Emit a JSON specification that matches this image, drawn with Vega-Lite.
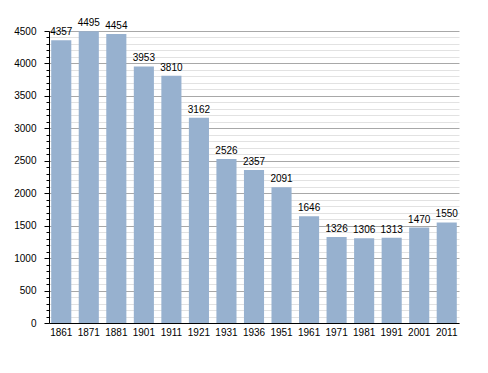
{
  "$schema": "https://vega.github.io/schema/vega-lite/v6.json",
  "width": 410,
  "height": 292,
  "autosize": "none",
  "padding": {"left": 49, "top": 31, "right": 29, "bottom": 50},
  "background": "white",
  "config": {
    "view": {"stroke": null},
    "font": "Liberation Sans",
    "axis": {"labelFont": "Liberation Sans", "labelFontSize": 10, "labelColor": "#000", "domainColor": "#000", "domainWidth": 1}
  },
  "data": {
    "values": [
      {"year": "1861", "pop": 4357},
      {"year": "1871", "pop": 4495},
      {"year": "1881", "pop": 4454},
      {"year": "1901", "pop": 3953},
      {"year": "1911", "pop": 3810},
      {"year": "1921", "pop": 3162},
      {"year": "1931", "pop": 2526},
      {"year": "1936", "pop": 2357},
      {"year": "1951", "pop": 2091},
      {"year": "1961", "pop": 1646},
      {"year": "1971", "pop": 1326},
      {"year": "1981", "pop": 1306},
      {"year": "1991", "pop": 1313},
      {"year": "2001", "pop": 1470},
      {"year": "2011", "pop": 1550}
    ]
  },
  "encoding": {
    "x": {
      "field": "year", "type": "nominal", "sort": null,
      "scale": {"paddingInner": 0.27, "paddingOuter": 0.08},
      "axis": {"title": null, "labelAngle": 0, "ticks": false, "labelPadding": 4, "grid": false}
    },
    "y": {
      "field": "pop", "type": "quantitative",
      "scale": {"domain": [0, 4500], "nice": false},
      "axis": {
        "title": null,
        "values": [0,100,200,300,400,500,600,700,800,900,1000,1100,1200,1300,1400,1500,1600,1700,1800,1900,2000,2100,2200,2300,2400,2500,2600,2700,2800,2900,3000,3100,3200,3300,3400,3500,3600,3700,3800,3900,4000,4100,4200,4300,4400,4500],
        "labelExpr": "datum.value % 500 === 0 ? datum.value : ''",
        "labelPadding": 8,
        "tickColor": "#000",
        "tickSize": {"condition": {"test": "datum.value % 500 === 0", "value": 5}, "value": 3},
        "grid": true,
        "gridColor": {"condition": {"test": "datum.value % 500 === 0", "value": "#a8a8a8"}, "value": "#e2e2e2"},
        "gridWidth": 1
      }
    }
  },
  "layer": [
    {"mark": {"type": "bar", "color": "#97b1cf"}},
    {
      "mark": {"type": "text", "baseline": "alphabetic", "dy": -5, "fontSize": 10, "color": "#000", "font": "Liberation Sans"},
      "encoding": {"text": {"field": "pop", "type": "quantitative", "format": "d"}}
    }
  ]
}
